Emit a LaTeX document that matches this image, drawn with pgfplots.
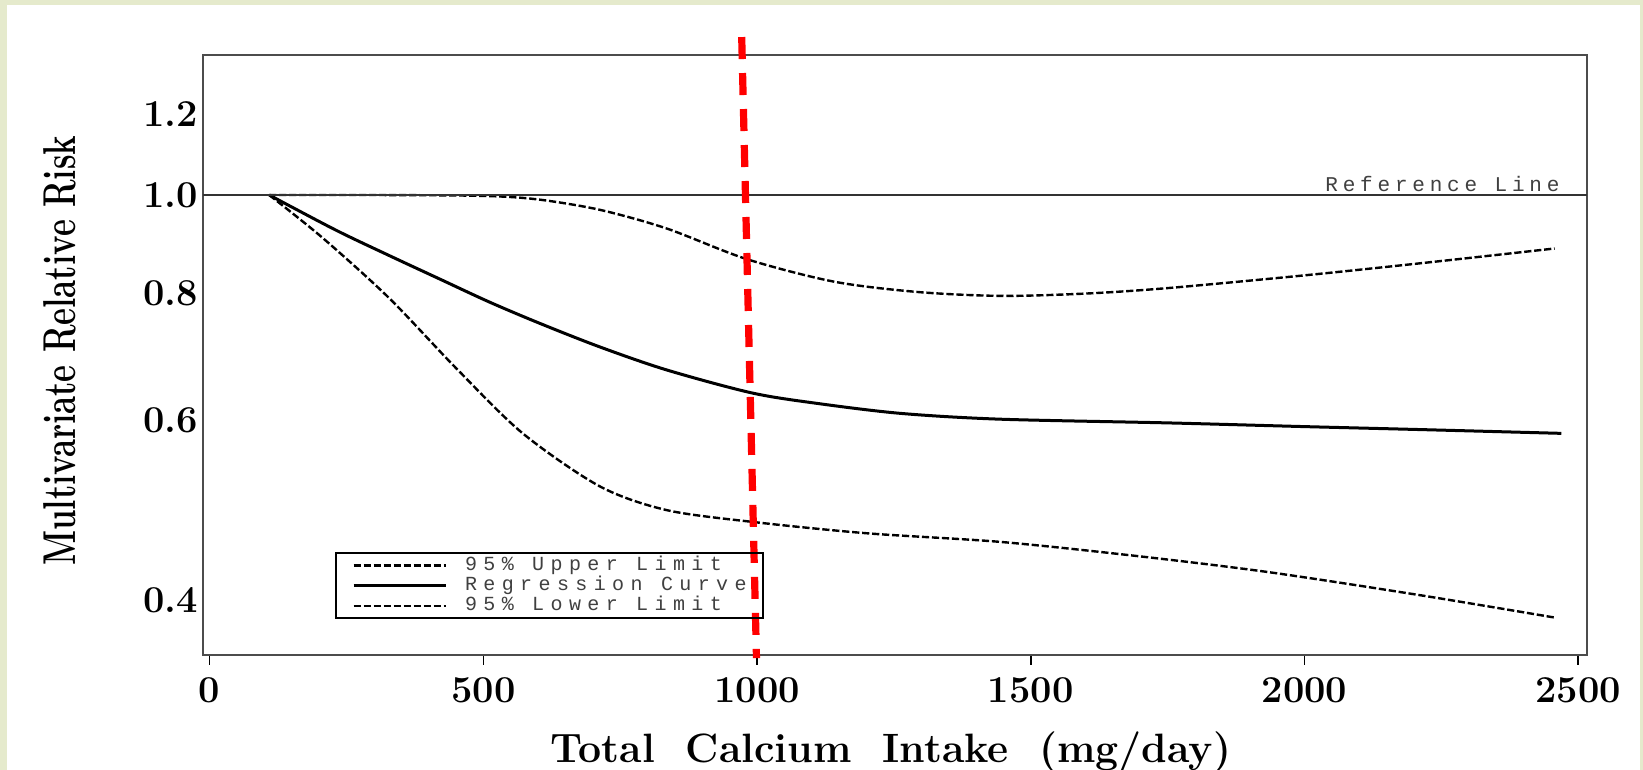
\documentclass[border=0pt]{standalone}
\usepackage{fontspec}
\usepackage{graphicx}
\usepackage{pgfplots}
\pgfplotsset{compat=1.18}
\newfontfamily\legendfont[LetterSpace=32]{Liberation Mono}
\newfontfamily\reffont[LetterSpace=22.9]{Liberation Mono}
\definecolor{frame}{RGB}{229,234,204}

\begin{document}
\begin{tikzpicture}
\useasboundingbox (-101.5pt,-57.5pt) rectangle (720pt,327.5pt);
\fill[frame] (-101.5pt,-57.5pt) rectangle (720pt,327.5pt);
\fill[white] (-98pt,-57.5pt) rectangle (718.5pt,325pt);
\begin{semilogyaxis}[
    scale only axis, width=692pt, height=300pt,
    xmin=-12, xmax=2516, ymin=0.353, ymax=1.373,
    axis line style={black!70, line width=1pt},
    xtick={0,500,1000,1500,2000,2500},
    ytick={0.4,0.6,0.8,1.0,1.2},
    yticklabels={0.4,0.6,0.8,1.0,1.2},
    tick pos=left,
    xtick align=outside,
    major tick length=5pt,
    ytick style={draw=none},
    xtick style={black, line width=0.8pt},
    /pgf/number format/assume math mode=true,
    /pgf/number format/1000 sep={},
    ticklabel style={font=\bfseries\fontsize{19}{19}\selectfont},
    xticklabel style={yshift=-3pt},
    yticklabel style={xshift=1pt},
    xlabel={\bfseries\fontsize{20.5}{20.5}\selectfont Total\ \ Calcium\ \ Intake\ \ (mg/day)},
    xlabel style={at={(axis description cs:0.497,0)}, anchor=center, yshift=-48.5pt},
    ylabel={\resizebox{215pt}{\height}{\fontsize{23}{23}\selectfont\bfseries Multivariate Relative Risk}},
    ylabel style={at={(axis description cs:0,0.507)}, anchor=center, yshift=71.5pt},
    clip=false,
    legend style={at={(rel axis cs:0.0954,0.06)}, anchor=south west,
        draw=black, line width=1pt, fill=none,
        font=\legendfont\fontsize{10}{9}\selectfont, text=black!75,
        inner xsep=8pt, inner ysep=2pt, row sep=1.8pt, column sep=9pt,
        nodes={inner sep=0pt, text height=6.5pt, text depth=1.8pt}},
    legend cell align=left,
    legend image code/.code={\draw[#1] (0pt,0pt) -- (46pt,0pt);},
]
% 95% upper limit
\addplot[black, line width=1.2pt, dash pattern=on 3.6pt off 1.4pt, smooth] coordinates {
    (109,1.0) (300,1.0) (500,0.998) (600,0.99) (713,0.967) (835,0.927)
    (981,0.865) (1140,0.822) (1292,0.803) (1444,0.796) (1600,0.800)
    (1750,0.810) (1993,0.833) (2213,0.857) (2457,0.886)
};
\addlegendentry{95\% Upper Limit}
% regression curve
\addplot[black, line width=1.5pt, smooth] coordinates {
    (109,1.0) (230,0.924) (328,0.872) (420,0.827) (511,0.785) (603,0.748)
    (713,0.709) (835,0.673) (990,0.639) (1109,0.624) (1262,0.610)
    (1444,0.602) (1750,0.597) (2000,0.592) (2213,0.588) (2469,0.583)
};
\addlegendentry{Regression Curve}
% 95% lower limit
\addplot[black, line width=1.2pt, dash pattern=on 3.6pt off 1.4pt, smooth] coordinates {
    (109,1.0) (206,0.908) (328,0.792) (450,0.676) (572,0.583) (713,0.517)
    (835,0.490) (993,0.477) (1200,0.465) (1444,0.456) (1688,0.442)
    (1932,0.426) (2213,0.404) (2460,0.384)
};
\addlegendentry{95\% Lower Limit}
% reference line
\addplot[black!80, line width=0.7pt, forget plot] coordinates {(-12,1.0) (2516,1.0)};
\node[anchor=south east, inner sep=1.5pt, font=\reffont\fontsize{10.5}{10.5}\selectfont, text=black!75]
    at (axis cs:2472,1.0) {Reference Line};
% red marker line near 1000 mg/day
\addplot[red, line width=3.6pt, dash pattern=on 11pt off 7pt, forget plot]
    coordinates {(972,1.43) (999,0.3505)};
\end{semilogyaxis}
\end{tikzpicture}
\end{document}
